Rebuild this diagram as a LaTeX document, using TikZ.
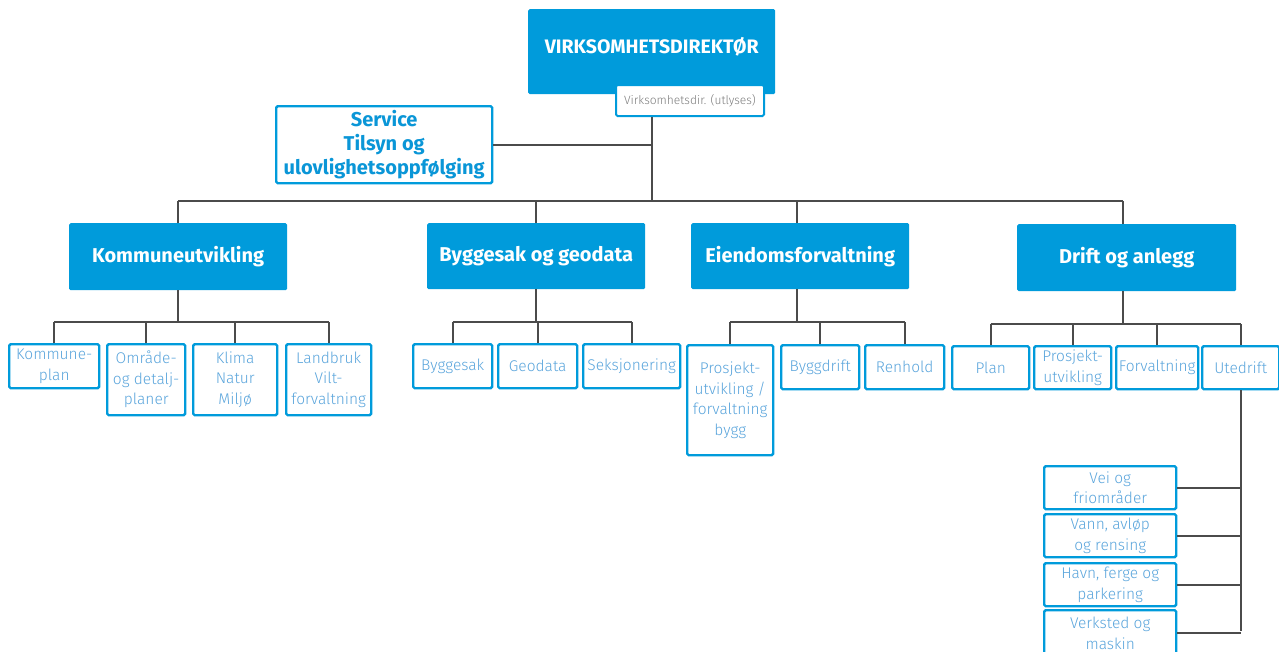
\documentclass[tikz,border=0pt]{standalone}
\usepackage{fontspec}
\setmainfont{Fira Sans}
\newfontfamily\lightfont{Fira Sans Light}
\definecolor{myblue}{RGB}{0,155,219}
\definecolor{txtblue}{RGB}{90,165,220}
\definecolor{svcblue}{RGB}{10,150,215}
\definecolor{linegray}{RGB}{75,75,75}
\definecolor{subgray}{RGB}{125,125,125}
\tikzset{
  pos/.style n args={4}{at={(#1,#2)}, minimum width={(#3-#1)*1pt}, minimum height={(#4-#2)*1pt}},
  base/.style={inner sep=0pt, anchor=north west, rounded corners=1.5pt, align=center},
  head/.style={base, fill=myblue, text=white, font=\bfseries\fontsize{20}{24}\selectfont},
  dirtext/.style={inner sep=0pt, text=white, font=\bfseries\fontsize{19.5}{24}\selectfont},
  unit/.style={base, draw=myblue, line width=2.4pt, fill=white, text=txtblue, font=\lightfont\fontsize{15.5}{20.5}\selectfont},
  subunit/.style={base, draw=myblue, line width=2pt, fill=white, text=subgray, font=\lightfont\fontsize{12}{14}\selectfont},
  svcunit/.style={base, draw=myblue, line width=2.4pt, fill=white, text=svcblue, font=\bfseries\fontsize{20}{24}\selectfont},
  conn/.style={draw=linegray, line width=1.8pt}
}
\begin{document}
\begin{tikzpicture}[x=1pt,y=-1pt]
\fill[white] (0,0) rectangle (1279,651);
\useasboundingbox (0,0) rectangle (1279,651);
% buses
\coordinate (topbus) at (0,201);
\coordinate (kbus) at (0,322);
\coordinate (bbus) at (0,322);
\coordinate (ebus) at (0,322);
\coordinate (dbus) at (0,324);
\coordinate (ubot) at (0,631);
% top
\node[head, pos={528}{9}{775}{94}] (dir) {};
\node[dirtext] (dirt) at ([yshift=4.5pt]dir.center) {VIRKSOMHETSDIREKTØR};
\node[subunit, pos={615}{84}{763}{115}] (sub) {Virksomhetsdir. (utlyses)};
\node[svcunit, pos={275}{105}{491}{182}] (svc) {Service\\Tilsyn og\\ulovlighetsoppfølging};
% level 2
\node[head, pos={69}{223}{287}{290}] (ku) {Kommuneutvikling};
\node[head, pos={427}{223}{645}{289}] (bg) {Byggesak og geodata};
\node[head, pos={691}{223}{909}{289}] (ef) {Eiendomsforvaltning};
\node[head, pos={1017}{224}{1236}{291}] (da) {Drift og anlegg};
% Kommuneutvikling
\node[unit, pos={8}{343}{98}{387}] (k1) {Kommune-\\plan};
\node[unit, pos={106}{343}{184}{414}] (k2) {Område-\\og detalj-\\planer};
\node[unit, pos={192}{343}{276}{414}] (k3) {Klima\\Natur\\Miljø};
\node[unit, pos={285}{343}{370}{414}] (k4) {Landbruk\\Vilt-\\forvaltning};
% Byggesak
\node[unit, pos={412}{343}{491}{387}] (b1) {Byggesak};
\node[unit, pos={497}{343}{576}{387}] (b2) {Geodata};
\node[unit, pos={582}{343}{679}{387}] (b3) {Seksjonering};
% Eiendom
\node[unit, pos={686}{344}{772}{454}] (e1) {Prosjekt-\\utvikling /\\forvaltning\\bygg};
\node[unit, pos={780}{344}{858}{388}] (e2) {Byggdrift};
\node[unit, pos={864}{344}{943}{388}] (e3) {Renhold};
% Drift
\node[unit, pos={951}{345}{1028}{388}] (d1) {Plan};
\node[unit, pos={1033}{345}{1110}{388}] (d2) {Prosjekt-\\utvikling};
\node[unit, pos={1115}{345}{1197}{388}] (d3) {Forvaltning};
\node[unit, pos={1201}{345}{1278}{388}] (d4) {Utedrift};
% Utedrift
\node[unit, pos={1043}{465}{1175}{508}] (u1) {Vei og\\friområder};
\node[unit, pos={1043}{513}{1175}{556}] (u2) {Vann, avløp\\og rensing};
\node[unit, pos={1043}{562}{1175}{605}] (u3) {Havn, ferge og\\parkering};
\node[unit, pos={1043}{609}{1175}{655}] (u4) {Verksted og\\maskin};
% connectors top
\draw[conn] (dir.south |- sub.south) -- (dir.south |- topbus);
\draw[conn] (svc.east) -- (svc.east -| dir.south);
\draw[conn] (ku.north |- topbus) -- ([xshift=-4pt]da.north |- topbus);
\draw[conn] (ku.north) -- (ku.north |- topbus);
\draw[conn] (bg.north) -- (bg.north |- topbus);
\draw[conn] ([xshift=-3pt]ef.north) -- ([xshift=-3pt]ef.north |- topbus);
\draw[conn] ([xshift=-4pt]da.north) -- ([xshift=-4pt]da.north |- topbus);
% Kommune
\draw[conn] (ku.south) -- (ku.south |- kbus);
\draw[conn] (k1.north |- kbus) -- (k4.north |- kbus);
\foreach \n in {k1,k2,k3,k4} \draw[conn] (\n.north) -- (\n.north |- kbus);
% Bygg
\draw[conn] (bg.south) -- (bg.south |- bbus);
\draw[conn] (b1.north |- bbus) -- (b3.north |- bbus);
\foreach \n in {b1,b2,b3} \draw[conn] (\n.north) -- (\n.north |- bbus);
% Eiendom
\draw[conn] ([xshift=-3pt]ef.south) -- ([xshift=-3pt]ef.south |- ebus);
\draw[conn] (e1.north |- ebus) -- (e3.north |- ebus);
\foreach \n in {e1,e2,e3} \draw[conn] (\n.north) -- (\n.north |- ebus);
% Drift
\draw[conn] ([xshift=-4pt]da.south) -- ([xshift=-4pt]da.south |- dbus);
\draw[conn] (d1.north |- dbus) -- (d4.north |- dbus);
\foreach \n in {d1,d2,d3,d4} \draw[conn] (\n.north) -- (\n.north |- dbus);
% Utedrift
\draw[conn] (d4.south) -- (d4.south |- ubot);
\foreach \n in {u1,u2,u3,u4} \draw[conn] (\n.east) -- (\n.east -| d4.south);
\end{tikzpicture}
\end{document}
